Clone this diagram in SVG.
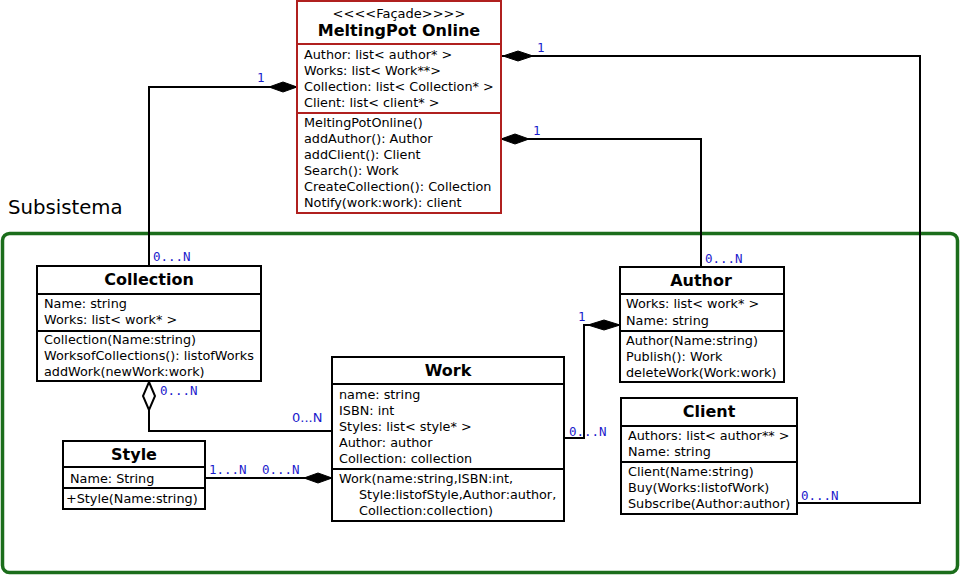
<svg xmlns="http://www.w3.org/2000/svg" width="961" height="576" viewBox="0 0 961 576">
<style>
.box{fill:#fff;stroke:#000;stroke-width:2}
.fbox{fill:#fff;stroke:#b0201f;stroke-width:2}
.sep{stroke:#000;stroke-width:2}
.fsep{stroke:#b0201f;stroke-width:2}
text{font-family:"DejaVu Sans",sans-serif;font-size:12.8px;fill:#000}
.t{font-weight:bold;font-size:16px;text-anchor:middle}
.st{text-anchor:middle;font-size:13px}
.lb{font-family:"DejaVu Sans Mono",monospace;font-size:12.5px;fill:#1a1acc}
.lbs{font-size:13px;fill:#1a1acc}
.ln{fill:none;stroke:#000;stroke-width:2}
.fd{fill:#000;stroke:#000;stroke-width:1}
.hd{fill:#fff;stroke:#000;stroke-width:2}
</style>
<rect width="961" height="576" fill="#fff"/>
<text x="8" y="214" style="font-size:19.7px">Subsistema</text>
<rect x="2.5" y="233.5" width="955" height="339" rx="7" fill="none" stroke="#1b6d1b" stroke-width="3.5"/>

<g id="connectors">
  <polyline class="ln" points="297,87 149,87 149,266"/>
  <polygon class="fd" points="297,87 283,82 269,87 283,92"/>
  <text class="lb" x="257" y="82">1</text>
  <text class="lb" x="153" y="261">0...N</text>

  <polyline class="ln" points="501,139 701,139 701,267"/>
  <polygon class="fd" points="501,139 515,134 529,139 515,144"/>
  <text class="lb" x="533" y="135">1</text>
  <text class="lb" x="705" y="263">0...N</text>

  <polyline class="ln" points="501,56 920,56 920,503 797,503"/>
  <polygon class="fd" points="503,56 518,51 533,56 518,61"/>
  <text class="lb" x="537" y="52">1</text>
  <text class="lb" x="801" y="500">0...N</text>

  <polyline class="ln" points="149,410 149,431 332,431"/>
  <polygon class="hd" points="149,382 155,396 149,410 143,396"/>
  <text class="lb" x="160" y="395">0...N</text>
  <text class="lbs" x="292" y="422">0...N</text>

  <polyline class="ln" points="205,478 332,478"/>
  <polygon class="fd" points="332,478 318,473 304,478 318,483"/>
  <text class="lb" x="209" y="474">1...N</text>
  <text class="lb" x="262" y="474">0...N</text>

  <polyline class="ln" points="564,438 584,438 584,325 620,325"/>
  <polygon class="fd" points="620,325 604,320 588,325 604,330"/>
  <text class="lb" x="578" y="321">1</text>
  <text class="lb" x="569" y="436">0...N</text>
</g>

<g id="facade">
  <rect class="fbox" x="297" y="1" width="204" height="212"/>
  <line class="fsep" x1="297" y1="44" x2="501" y2="44"/>
  <line class="fsep" x1="297" y1="113" x2="501" y2="113"/>
  <text class="st" x="399" y="18">&lt;&lt;&lt;&lt;Façade&gt;&gt;&gt;&gt;</text>
  <text class="t" x="399" y="36">MeltingPot Online</text>
  <text x="304" y="59">Author: list&lt; author* &gt;</text>
  <text x="304" y="75">Works: list&lt; Work**&gt;</text>
  <text x="304" y="91">Collection: list&lt; Collection* &gt;</text>
  <text x="304" y="107">Client: list&lt; client* &gt;</text>
  <text x="304" y="127">MeltingPotOnline()</text>
  <text x="304" y="143">addAuthor(): Author</text>
  <text x="304" y="159">addClient(): Client</text>
  <text x="304" y="175">Search(): Work</text>
  <text x="304" y="191">CreateCollection(): Collection</text>
  <text x="304" y="207">Notify(work:work): client</text>
</g>

<g id="collection">
  <rect class="box" x="37" y="266" width="224" height="115"/>
  <line class="sep" x1="37" y1="294" x2="261" y2="294"/>
  <line class="sep" x1="37" y1="331" x2="261" y2="331"/>
  <text class="t" x="149" y="285">Collection</text>
  <text x="44" y="308">Name: string</text>
  <text x="44" y="324">Works: list&lt; work* &gt;</text>
  <text x="44" y="344">Collection(Name:string)</text>
  <text x="44" y="360">WorksofCollections(): listofWorks</text>
  <text x="44" y="376">addWork(newWork:work)</text>
</g>

<g id="author">
  <rect class="box" x="620" y="267" width="164" height="115"/>
  <line class="sep" x1="620" y1="294" x2="784" y2="294"/>
  <line class="sep" x1="620" y1="331" x2="784" y2="331"/>
  <text class="t" x="701" y="286">Author</text>
  <text x="626" y="308">Works: list&lt; work* &gt;</text>
  <text x="626" y="325">Name: string</text>
  <text x="626" y="345">Author(Name:string)</text>
  <text x="626" y="361">Publish(): Work</text>
  <text x="626" y="377">deleteWork(Work:work)</text>
</g>

<g id="work">
  <rect class="box" x="332" y="357" width="232" height="164"/>
  <line class="sep" x1="332" y1="384" x2="564" y2="384"/>
  <line class="sep" x1="332" y1="469" x2="564" y2="469"/>
  <text class="t" x="448" y="376">Work</text>
  <text x="339" y="399">name: string</text>
  <text x="339" y="415">ISBN: int</text>
  <text x="339" y="431">Styles: list&lt; style* &gt;</text>
  <text x="339" y="447">Author: author</text>
  <text x="339" y="463">Collection: collection</text>
  <text x="339" y="483">Work(name:string,ISBN:int,</text>
  <text x="359" y="499">Style:listofStyle,Author:author,</text>
  <text x="359" y="515">Collection:collection)</text>
</g>

<g id="client">
  <rect class="box" x="621" y="398" width="176" height="116"/>
  <line class="sep" x1="621" y1="426" x2="797" y2="426"/>
  <line class="sep" x1="621" y1="462" x2="797" y2="462"/>
  <text class="t" x="709" y="417">Client</text>
  <text x="628" y="440">Authors: list&lt; author** &gt;</text>
  <text x="628" y="456">Name: string</text>
  <text x="628" y="476">Client(Name:string)</text>
  <text x="628" y="492">Buy(Works:listofWork)</text>
  <text x="628" y="508">Subscribe(Author:author)</text>
</g>

<g id="style">
  <rect class="box" x="63" y="441" width="142" height="68"/>
  <line class="sep" x1="63" y1="467" x2="205" y2="467"/>
  <line class="sep" x1="63" y1="488" x2="205" y2="488"/>
  <text class="t" x="134" y="460">Style</text>
  <text x="70" y="483">Name: String</text>
  <text x="66" y="503">+Style(Name:string)</text>
</g>
</svg>
